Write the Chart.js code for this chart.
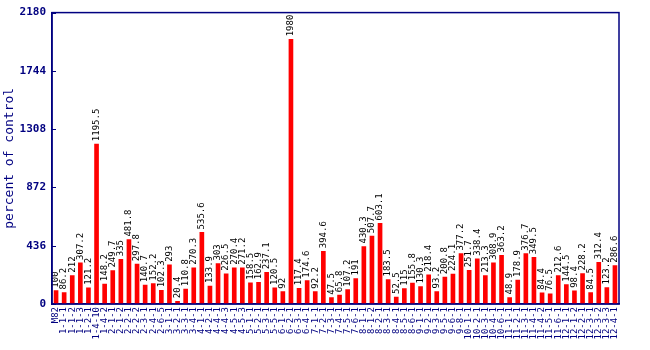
<!DOCTYPE html>
<html>
<head>
<meta charset="utf-8">
<script src="https://cdn.jsdelivr.net/npm/chart.js@4/dist/chart.umd.min.js"></script>
<style>
  body { margin: 0; background: #fff; }
  #wrap { width: 650px; height: 350px; position: relative; }
</style>
</head>
<body>
<div id="wrap"><canvas id="bars"></canvas></div>
<script>
// lines and their response, percent of control
const lines = ["M82","1-1-1","1-1-2","1-1-3","1-2-1","1-4-10","1-4-2","2-1-1","2-1-2","2-2-1",
  "2-2-2","2-3-1","2-4-1","2-6-5","3-1-1","3-2-1","3-3-1","3-4-1","4-1-1","4-2-1",
  "4-4-1","4-4-3","4-5-1","4-5-3","5-1-1","5-2-1","5-3-1","5-5-1","6-1-1","6-2-1",
  "6-3-1","6-4-1","7-1-1","7-2-1","7-3-1","7-4-1","7-5-1","7-6-1","8-1-1","8-1-2",
  "8-2-1","8-3-1","8-4-1","8-5-1","8-6-1","9-1-1","9-2-1","9-3-1","9-5-1","9-6-1",
  "9-8-1","10-1-1","10-2-1","10-3-1","10-4-1","10-6-1","11-1-1","11-2-1","11-3-1","11-4-1",
  "11-4-2","11-5-1","11-6-1","12-1-1","12-1-2","12-2-1","12-3-1","12-3-2","12-3-3","12-4-1"];
const percent = [100, 86.2, 212, 307.2, 121.2, 1195.5, 148.2, 249.7, 335, 481.8,
  297.8, 140.7, 152.2, 102.3, 293, 20.4, 110.8, 270.3, 535.6, 133.9,
  303, 226.5, 270.4, 271.2, 158.5, 162.9, 237.1, 120.5, 92, 1980,
  117.4, 174.6, 92.2, 394.6, 47.5, 65.8, 107.2, 191, 430.3, 507.7,
  603.1, 183.5, 52.5, 115, 155.8, 130.3, 218.4, 93.2, 200.8, 224.1,
  377.2, 251.7, 338.4, 213.3, 308.9, 363.2, 48.9, 178.9, 376.7, 349.5,
  84.4, 76.5, 212.6, 144.5, 98.4, 228.2, 84.5, 312.4, 123.2, 286.6];
const yTicks = [0, 436, 872, 1308, 1744, 2180];

const navy = "#000080";
const mono = "'DejaVu Sans Mono', 'Liberation Mono', monospace";

// box round the plot and small ticks pointing inward on the y axis
const frame = {
  id: "frame",
  afterDraw(chart) {
    const { ctx, chartArea: a, scales } = chart;
    ctx.save();
    ctx.strokeStyle = navy;
    ctx.lineWidth = 1.5;
    ctx.strokeRect(a.left, a.top, a.right - a.left, a.bottom - a.top);
    ctx.lineWidth = 1;
    yTicks.forEach(t => {
      const y = Math.round(scales.y.getPixelForValue(t)) + 0.5;
      ctx.beginPath();
      ctx.moveTo(a.left, y);
      ctx.lineTo(a.left + 4, y);
      ctx.stroke();
    });
    ctx.restore();
  }
};

// value written up the side of each bar
const valueText = {
  id: "valueText",
  afterDatasetsDraw(chart) {
    const { ctx } = chart;
    const meta = chart.getDatasetMeta(0);
    ctx.save();
    ctx.fillStyle = "#000";
    ctx.font = "9px " + mono;
    ctx.textAlign = "left";
    ctx.textBaseline = "middle";
    meta.data.forEach((bar, i) => {
      ctx.save();
      ctx.translate(bar.x, bar.y - 3);
      ctx.rotate(-Math.PI / 2);
      ctx.fillText(String(percent[i]), 0, 0);
      ctx.restore();
    });
    ctx.restore();
  }
};

new Chart("bars", {
  type: "bar",
  data: {
    labels: lines,
    datasets: [{
      data: percent,
      backgroundColor: "#ff0000",
      barThickness: 4
    }]
  },
  options: {
    responsive: true,
    maintainAspectRatio: false,
    animation: false,
    layout: { padding: { top: 2, right: 31, left: 0, bottom: 0 } },
    plugins: {
      legend: { display: false },
      tooltip: { enabled: false }
    },
    scales: {
      x: {
        offset: true,
        grid: { display: false, drawTicks: false },
        border: { color: navy, width: 1.5 },
        ticks: {
          autoSkip: false,
          minRotation: 90,
          maxRotation: 90,
          padding: 3,
          color: navy,
          font: { family: mono, size: 9 }
        },
        afterFit(scale) { scale.height = 46; }
      },
      y: {
        min: 0,
        max: 2180,
        afterBuildTicks(scale) { scale.ticks = yTicks.map(v => ({ value: v })); },
        grid: { display: false, drawTicks: false },
        border: { color: navy, width: 1.5 },
        ticks: {
          padding: 6,
          color: navy,
          font: { family: mono, size: 11, weight: "bold" },
          callback: v => String(v)
        },
        title: {
          display: true,
          text: "percent of control",
          color: navy,
          font: { family: mono, size: 13 },
          padding: { top: 2, bottom: 2 }
        },
        afterFit(scale) { scale.width = 52; }
      }
    }
  },
  plugins: [frame, valueText]
});
</script>
</body>
</html>
